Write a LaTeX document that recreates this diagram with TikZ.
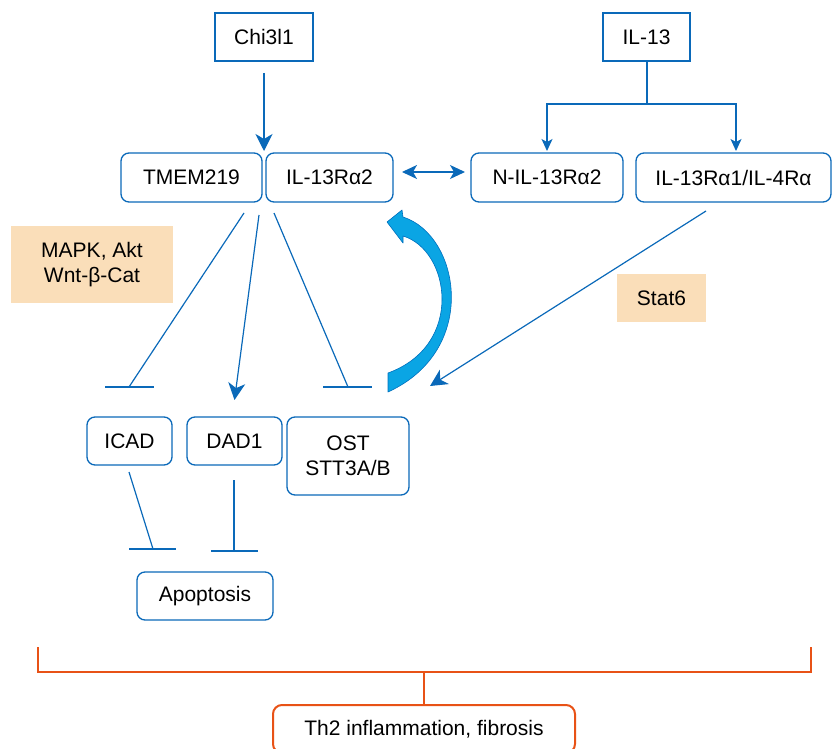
\documentclass[tikz,border=0pt]{standalone}
\usepackage{fontspec}
\setmainfont{Liberation Sans}
\usetikzlibrary{arrows.meta}
\definecolor{bl}{RGB}{10,105,185}
\definecolor{cy}{RGB}{10,165,228}
\definecolor{cyd}{RGB}{0,112,190}
\definecolor{tan}{RGB}{250,222,185}
\definecolor{org}{RGB}{232,82,22}
\begin{document}
\begin{tikzpicture}[x=1pt,y=-1pt,
  every node/.style={font=\fontsize{21}{25}\selectfont, inner sep=0pt, align=center},
  sq/.style={draw=bl, line width=1.3pt, rectangle},
  rbox/.style={draw=bl, line width=1.3pt, rounded corners=8pt},
  tanbox/.style={fill=tan},
  ln/.style={draw=bl, line width=1.2pt},
  big/.style={ln, -{Stealth[length=17pt,width=17pt,inset=5pt]}},
  small/.style={ln, -{Stealth[length=12pt,width=11pt,inset=3pt]}},
  dbl/.style={ln, {Stealth[length=15pt,width=14pt,inset=4pt]}-{Stealth[length=15pt,width=14pt,inset=4pt]}},
  obr/.style={draw=org, line width=2pt}]
\useasboundingbox (0,0) rectangle (833,749);

% nodes
\node[sq, minimum width=98pt, minimum height=48pt] (chi) at (264,37) {Chi3l1};
\node[sq, minimum width=87pt, minimum height=48pt] (il13) at (646.5,37) {IL-13};
\node[rbox, minimum width=141pt, minimum height=49pt] (tmem) at (191.5,177.5) {TMEM219};
\node[rbox, minimum width=127pt, minimum height=49pt] (ra2) at (329.5,177.5) {IL-13Rα2};
\node[rbox, minimum width=152pt, minimum height=49pt] (nil) at (547,177.5) {N-IL-13Rα2};
\node[rbox, minimum width=195pt, minimum height=49pt] (ra1) at (733.5,177.5) {IL-13Rα1/IL-4Rα};
\node[tanbox, minimum width=162pt, minimum height=77pt] (mapk) at (92,264.5) {MAPK, Akt\\Wnt-β-Cat};
\node[tanbox, minimum width=89pt, minimum height=48pt] (stat) at (661.5,298) {Stat6};
\node[rbox, minimum width=85pt, minimum height=48pt] (icad) at (129.5,441) {ICAD};
\node[rbox, minimum width=95pt, minimum height=48pt] (dad) at (234.5,441) {DAD1};
\node[rbox, minimum width=122pt, minimum height=78pt] (ost) at (348,456) {OST\\STT3A/B};
\node[rbox, minimum width=136pt, minimum height=48pt] (apo) at (205,596) {Apoptosis};
\node[draw=org, line width=2pt, rounded corners=9pt, minimum width=302pt, minimum height=48pt] (th2) at (424,729) {Th2 inflammation, fibrosis};

% Chi3l1 -> TMEM219/IL-13Ra2
\coordinate (c1) at (264,73);
\coordinate (c2) at (264,151);
\draw[big] (c1) -- (c2);

% IL-13 branches
\coordinate (j1) at (647,104);
\coordinate (n1) at (547,151);
\coordinate (n2) at (736,151);
\draw[ln] (il13.south -| j1) -- (j1);
\draw[small] (j1) -| (n1);
\draw[small] (j1) -| (n2);

% double arrow
\coordinate (d1) at (402,172);
\coordinate (d2) at (465,172);
\draw[dbl] (d1) -- (d2);

% TMEM219 lines
\coordinate (s1) at (244,213);
\coordinate (s2) at (259,215);
\coordinate (s3) at (274,213);
\coordinate (b1) at (129,387);
\coordinate (b2) at (234.5,400);
\coordinate (b3) at (348,387);
\draw[ln] (s1) -- (b1);
\draw[ln] (105,387) -- (154,387);
\draw[big] (s2) -- (b2);
\draw[ln] (s3) -- (b3);
\draw[ln] (323,387) -- (372,387);

% ICAD / DAD1 -> Apoptosis
\coordinate (i1) at (129,472);
\coordinate (i2) at (153,549);
\draw[ln] (i1) -- (i2);
\draw[ln] (129,549) -- (176,549);
\coordinate (a1) at (234,480);
\coordinate (a2) at (234,551);
\draw[ln] (a1) -- (a2);
\draw[ln] (211,551) -- (258,551);

% Stat6 arrow
\coordinate (t1) at (706,211);
\coordinate (t2) at (430,386);
\draw[big] (t1) -- (t2);

% curved cyan arrow
\draw[fill=cy, draw=cyd, line width=0.6pt, line join=round]
  (403,217) .. controls (460,235) and (480,350) .. (388,392)
  -- (388,373) .. controls (465,345) and (450,250) .. (403,236)
  -- (403,243) -- (387,222) -- (402,210) -- cycle;

% bracket
\coordinate (L) at (38,672);
\coordinate (R) at (811,672);
\coordinate (M) at (424,672);
\draw[obr] (38,647) -- (L) -- (R) -- (811,647);
\draw[obr] (M) -- (th2.north);
\end{tikzpicture}
\end{document}
